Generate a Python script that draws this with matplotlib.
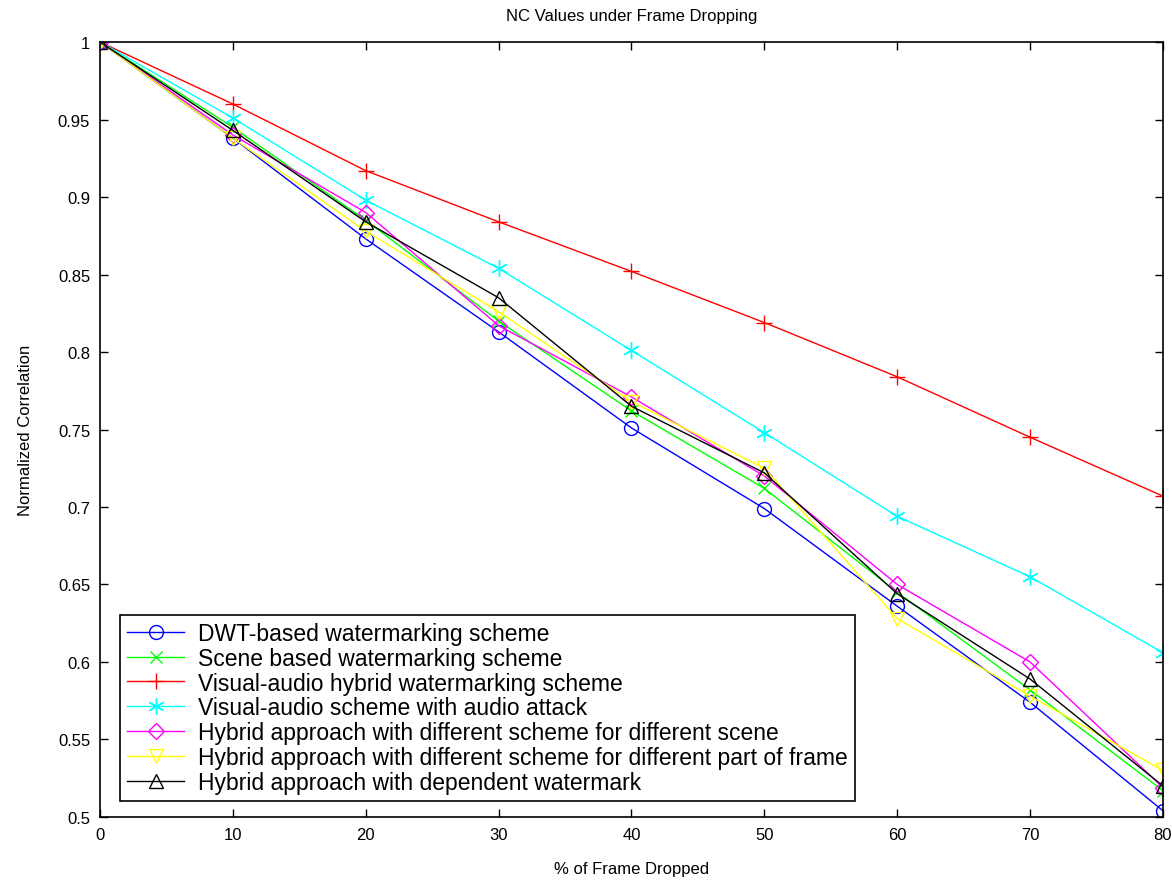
import numpy as np
import matplotlib
matplotlib.use("Agg")
import matplotlib.pyplot as plt

plt.rcParams['font.family'] = ['Liberation Sans', 'DejaVu Sans']

# % of frames dropped
frames = [0, 10, 20, 30, 40, 50, 60, 70, 80]

dwt = [1.0, 0.938, 0.873, 0.813, 0.751, 0.699, 0.636, 0.574, 0.504]
scene = [1.0, 0.945, 0.885, 0.820, 0.762, 0.712, 0.645, 0.582, 0.517]
visual_audio = [1.0, 0.960, 0.917, 0.884, 0.852, 0.819, 0.784, 0.745, 0.707]
va_attack = [1.0, 0.951, 0.898, 0.854, 0.801, 0.748, 0.694, 0.655, 0.606]
hyb_scene = [1.0, 0.940, 0.890, 0.817, 0.771, 0.720, 0.650, 0.600, 0.519]
hyb_part = [1.0, 0.938, 0.878, 0.826, 0.768, 0.725, 0.628, 0.578, 0.530]
hyb_dep = [1.0, 0.943, 0.884, 0.835, 0.765, 0.722, 0.644, 0.589, 0.520]

labels = [
    "DWT-based watermarking scheme",
    "Scene based watermarking scheme",
    "Visual-audio hybrid watermarking scheme",
    "Visual-audio scheme with audio attack",
    "Hybrid approach with different scheme for different scene",
    "Hybrid approach with different scheme for different part of frame",
    "Hybrid approach with dependent watermark",
]
series = [dwt, scene, visual_audio, va_attack, hyb_scene, hyb_part, hyb_dep]
colors = ["#0000ff", "#00ff00", "#ff0000", "#00ffff", "#ff00ff", "#ffff00", "#000000"]
# matlab-like markers: o, x, +, *, d, v, ^
markers = ["o", "x", "+", (6, 2, 0), "D", "v", "^"]
msizes = [10, 8, 12, 12, 8, 10, 10]

fig = plt.figure(figsize=(11.72, 8.87), dpi=100)
ax = fig.add_axes([0.0853, 0.0778, 0.907, 0.8737])

for y, lab, c, m, ms in zip(series, labels, colors, markers, msizes):
    ax.plot(frames, y, color=c, marker=m, markersize=ms, markerfacecolor="none",
            markeredgecolor=c, linewidth=1.0, markeredgewidth=1.0, label=lab)

ax.set_xlim(0, 80)
ax.set_ylim(0.5, 1.0)
ax.set_xticks(np.arange(0, 81, 10))
yt = np.round(np.arange(0.5, 1.001, 0.05), 2)
ax.set_yticks(yt)
ax.set_yticklabels([("%g" % v) for v in yt])
ax.tick_params(direction="in", top=True, right=True, length=6, labelsize=12,
               width=1, pad=7)
for s in ax.spines.values():
    s.set_linewidth(1.2)

ax.set_title("NC Values under Frame Dropping", fontsize=12, pad=16)
ax.set_xlabel("% of Frame Dropped", fontsize=12, labelpad=14)
ax.set_ylabel("Normalized Correlation", fontsize=12, labelpad=18)

leg = ax.legend(loc="lower left", bbox_to_anchor=(0.019, 0.021), fontsize=16.5,
                fancybox=False, edgecolor="black", framealpha=1,
                handlelength=2.5, borderpad=0.3, labelspacing=0.08,
                handletextpad=0.6, borderaxespad=0)
leg.get_frame().set_linewidth(1.2)

fig.savefig("out.png", dpi=100)
